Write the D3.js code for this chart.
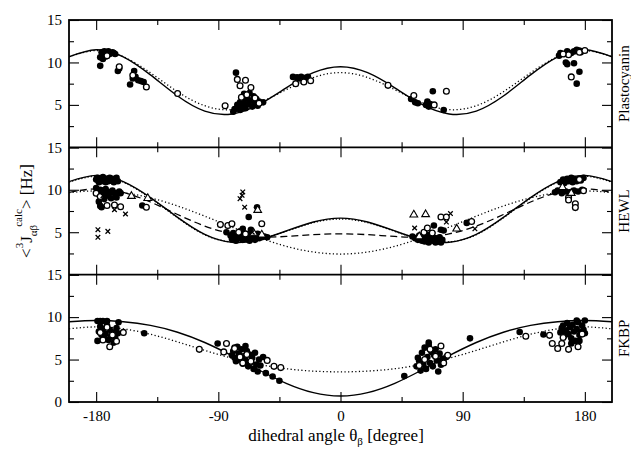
<!DOCTYPE html>
<html><head><meta charset="utf-8">
<script src="https://cdn.jsdelivr.net/npm/d3@7"></script>
<style>body{margin:0;background:#fff}svg{display:block}</style>
</head><body><svg id="c" width="631" height="449"></svg>
<script>
// ---------- data ----------
const thetaGrid = [-200,-180,-160,-140,-120,-100,-80,-60,-40,-20,0,20,40,60,80,100,120,140,160,180,200];
const xTickValues = [-180,-90,0,90,180];
const xTickLabels = ["-180","-90","0","90","180"];
const xMinorTicks = [-135,-45,45,135];
const yTickValues = [0,5,10,15];
const yMinorTicks = [2.5,7.5,12.5];
const panelNames = ["Plastocyanin","HEWL","FKBP"];

// curves (values at thetaGrid)
const p1Solid  = [10.67,11.5,10.67,8.54,6.05,4.27,3.93,5.05,7.01,8.79,9.5,8.79,7.01,5.05,3.93,4.27,6.05,8.54,10.67,11.5,10.67];
const p1Dotted = [10.67,11.4,10.67,8.78,6.55,4.9,4.44,5.25,6.79,8.22,8.8,8.22,6.79,5.25,4.44,4.9,6.55,8.78,10.67,11.4,10.67];
const p2Solid  = [10.96,11.7,10.96,9.08,6.75,4.75,3.82,4.11,5.15,6.21,6.66,6.21,5.15,4.11,3.82,4.75,6.75,9.08,10.96,11.7,10.96];
const p2DotA   = [10.9,11.6,10.9,9.0,6.7,4.7,3.86,4.16,5.1,6.12,6.56,6.12,5.1,4.16,3.86,4.7,6.7,9.0,10.9,11.6,10.9];
const p2Dashed = [9.69,10.11,9.69,8.56,7.09,5.73,4.81,4.44,4.5,4.71,4.81,4.71,4.5,4.44,4.81,5.73,7.09,8.56,9.69,10.11,9.69];
const p2DotB   = [9.66,9.87,9.66,9.04,8.09,6.89,5.6,4.37,3.34,2.67,2.43,2.67,3.34,4.37,5.6,6.89,8.09,9.04,9.66,9.87,9.66];
const p3Solid  = [9.46,9.6,9.46,9.02,8.22,7.01,5.46,3.77,2.2,1.1,0.7,1.1,2.2,3.77,5.46,7.01,8.22,9.02,9.46,9.6,9.46];
const p3Dotted = [8.62,8.85,8.62,7.98,7.08,6.08,5.16,4.43,3.92,3.64,3.55,3.64,3.92,4.43,5.16,6.08,7.08,7.98,8.62,8.85,8.62];

// scatter points [theta, J]
const p1Filled = [[-177,9.6],[-177,10.6],[-176,11.2],[-175,10.9],[-174,11.3],[-173,10.7],[-172,11.0],[-171,11.3],[-175,10.4],[-170,11.0],[-168,11.2],[-167,11.1],[-166,11.0],[-164,9.0],[-163,9.3],[-155,7.4],[-152,9.0],[-153,8.1],[-151,8.3],[-149,7.9],[-147,7.8],[-145,7.7],
 [-77,8.8],[-79,4.2],[-78,4.5],[-76,5.0],[-75,4.7],[-74,5.3],[-73,4.9],[-72,5.6],[-71,5.2],[-70,4.6],[-69,5.8],[-68,5.1],[-67,6.4],[-66,5.5],[-65,4.8],[-64,6.0],[-63,5.3],[-62,5.7],[-61,4.9],[-60,5.4],[-57,5.3],[-71,6.3],[-74,4.4],
 [-35,8.3],[-32,8.25],[-29,8.3],[-26,8.2],[-24,8.3],[-30,8.1],
 [52,5.7],[55,5.3],[57,5.2],[63,5.0],[64,5.4],[65,4.8],[66,5.1],[68,6.6],[76,4.4],
 [161,10.8],[162,11.1],[165,11.0],[167,11.3],[170,11.1],[172,11.3],[174,11.5],[176,11.4],[177,11.2],[166,10.0],[167,9.8],[172,9.9],[176,8.9],[174,7.5]];
const p1Open = [[-172,10.8],[-163,9.5],[-153,8.5],[-143,7.1],[-120,6.35],[-85,4.9],[-76,8.0],[-70,7.9],[-74,7.25],[-66,7.05],[-73,5.9],[-69,6.2],[-63,5.8],[-60,5.2],
 [-33,7.5],[-27,7.7],[-22,7.85],[35,7.3],[54,6.1],[69,5.0],[78,6.6],[170,8.3],[168,10.9],[176,11.2],[180,11.4],[164,11.0]];
const p2Filled = [[-180,11.2],[-179,11.4],[-178,10.9],[-177,11.3],[-176,11.0],[-175,11.5],[-174,11.2],[-173,10.9],[-172,11.3],[-171,11.0],[-170,11.4],[-169,11.1],[-168,11.3],[-167,10.9],[-166,11.2],[-165,11.4],[-164,11.0],
 [-180,10.2],[-179,9.8],[-178,9.5],[-177,10.0],[-176,9.7],[-175,9.9],[-174,9.6],[-173,10.1],[-172,9.8],[-171,9.3],[-170,9.7],[-169,9.0],[-168,9.9],[-166,9.5],[-165,9.1],[-163,9.8],[-162,9.6],[-178,8.6],[-177,8.1],[-176,7.95],[-146,8.15],[-174,8.9],
 [-84,5.0],[-81,4.6],[-80,4.2],[-79,4.9],[-78,4.4],[-77,4.0],[-76,4.7],[-75,4.3],[-74,5.1],[-73,4.5],[-72,4.1],[-71,4.8],[-70,4.4],[-69,4.2],[-68,4.6],[-67,4.0],[-66,4.9],[-65,4.3],[-64,4.6],[-63,4.1],[-62,4.5],[-61,4.8],[-60,4.3],[-59,4.6],[-58,4.4],[-56,4.5],[-54,4.4],[-67.6,6.8],[-61.5,7.95],[-72,5.4],[-66,5.3],
 [53,4.5],[55,4.3],[57,4.1],[58,4.6],[60,4.0],[61,4.4],[62,3.9],[63,4.2],[64,4.7],[65,3.8],[66,4.1],[67,4.5],[68,4.0],[69,4.3],[70,3.8],[71,4.2],[72,3.9],[73,4.4],[74,3.8],[75,4.1],[68.8,5.8],[76,5.2],[74,5.3],[93,6.1],
 [158,9.7],[160,9.9],[162,10.9],[163,9.6],[164,11.2],[165,10.8],[166,9.8],[167,11.3],[168,11.0],[169,9.7],[170,11.4],[171,10.9],[172,9.9],[173,11.2],[174,11.0],[175,9.8],[176,11.3],[177,11.1],[178,10.0],[179,11.4],[172,11.3]];
const p2Open = [[-180,9.6],[-172,8.15],[-166.5,8.2],[-162,8.0],[-143,7.95],[-177,9.2],[-88.5,5.9],[-83,5.8],[-80,6.0],[-58,6.0],[-75,5.0],[-70,4.8],[61.5,5.0],[67.6,4.9],[74,6.8],[78,6.8],[96.6,6.26],[64,5.5],[168,9.1],[168,8.8],[173,8.35],[173,7.9],[176,11.2],[179,9.9]];
const p2Cross = [[-178.7,5.3],[-178.7,4.4],[-171.4,5.1],[-166.5,7.65],[-158.4,7.15],[-74,8.95],[-72.5,9.35],[-72,9.75],[-70.6,7.95],[54.6,5.5],[78,6.2],[81,7.2],[99,5.4],[-65,5.0],[-175,9.3]];
const p2Triangle = [[-154,9.25],[-142,9.0],[-61,7.6],[54,7.05],[62.7,7.1],[85.6,5.4],[163.5,10.3],[-64,4.9],[-58,4.7],[170,9.6],[58,4.5]];
const p3Filled = [[-179,9.55],[-177,9.55],[-175,9.55],[-172,9.55],[-163.5,9.4],[-179,7.2],[-178,8.3],[-177,8.9],[-176,7.9],[-175,8.6],[-174,7.5],[-173,8.0],[-172,9.0],[-171,7.3],[-170,8.5],[-169,7.7],[-168,8.2],[-167,7.0],[-166,7.6],[-165,8.7],[-164,8.1],[-144.6,8.1],
 [-90.5,6.9],[-80,5.5],[-79,6.0],[-78,5.2],[-77,4.8],[-76,6.5],[-75,5.7],[-74,5.0],[-73,6.2],[-72,4.5],[-71,5.4],[-70,4.9],[-69,6.0],[-68,4.2],[-67,5.6],[-66,4.7],[-65,5.2],[-64,3.9],[-63,5.8],[-62,4.4],[-61,3.6],[-60,5.0],[-59,4.3],[-57,5.3],[-55,3.4],[-50,3.0],[-45,2.5],[-78,6.4],[-70,6.6],
 [47,3.05],[56,4.2],[57,5.2],[58,4.8],[59,3.7],[60,5.8],[61,4.4],[62,6.4],[63,3.9],[64,5.3],[65,6.7],[66,4.6],[67,5.9],[68,4.2],[69,5.5],[70,6.2],[71,4.9],[72,3.6],[73,5.7],[74,4.4],[75,5.1],[76,4.7],[78,5.3],[95.4,7.5],[132,8.25],[149.5,7.95],[65,7.0],
 [162,8.2],[163,8.7],[164,9.0],[165,7.8],[166,8.4],[167,9.3],[168,8.0],[169,8.8],[170,7.5],[171,9.1],[172,8.3],[173,7.2],[174,8.6],[175,9.4],[176,7.9],[177,8.2],[178,9.0],[179,8.5],[180,9.6],[180,8.1],[170,6.9],[176,7.2],[174,9.6]];
const p3Open = [[-177,8.2],[-175,7.3],[-170,6.5],[-165,7.15],[-172,8.8],[-160,8.2],[-168,7.9],[-104,6.2],[-86,5.9],[-84,6.9],[-78,6.3],[-74,5.3],[-69,5.6],[-66,4.8],[-54,4.9],[-49,4.2],[-44,4.05],[-72,4.6],
 [58,4.3],[62,5.0],[66,6.2],[70,5.4],[74,6.6],[79,5.5],[76,4.6],[136.5,7.75],[154,7.85],[156,6.9],[160,6.3],[163,6.9],[168,6.2],[175,6.5],[164,7.6],[178,8.0]];

// ---------- layout ----------
const L = 69, R = 612, T = 20, B = 402, H = (B - T) / 3;
const serif = "'Liberation Serif','Times New Roman',serif";
const svg = d3.select("#c");
const x = d3.scaleLinear().domain([-200, 200]).range([L, R]);

const panels = [
  {curves:[{v:p1Dotted,dash:"1.2,2.4"},{v:p1Solid,dash:null}], filled:p1Filled, open:p1Open, cross:[], tri:[], labels:[5,10,15]},
  {curves:[{v:p2DotB,dash:"1.2,2.4"},{v:p2Dashed,dash:"7,4"},{v:p2DotA,dash:"1.2,2"},{v:p2Solid,dash:null}], filled:p2Filled, open:p2Open, cross:p2Cross, tri:p2Triangle, labels:[5,10,15]},
  {curves:[{v:p3Dotted,dash:"1.2,2.4"},{v:p3Solid,dash:null}], filled:p3Filled, open:p3Open, cross:[], tri:[], labels:[0,5,10,15]}
];

panels.forEach((p, i) => {
  const top = T + i * H, bot = top + H;
  const y = d3.scaleLinear().domain([0, 15]).range([bot, top]);
  const g = svg.append("g");
  const cid = "clip" + i;
  svg.append("clipPath").attr("id", cid).append("rect").attr("x", L).attr("y", top).attr("width", R - L).attr("height", H);
  const line = d3.line().x(d => x(d[0])).y(d => y(d[1])).curve(d3.curveNatural);
  const cg = g.append("g").attr("clip-path", `url(#${cid})`);
  p.curves.forEach(c => {
    cg.append("path").datum(c.v.map((v, j) => [thetaGrid[j], v]))
      .attr("d", line).attr("fill", "none").attr("stroke", "#000")
      .attr("stroke-width", c.dash ? 1.3 : 1.4)
      .attr("stroke-dasharray", c.dash);
  });
  cg.selectAll(".f").data(p.filled).join("circle")
    .attr("cx", d => x(d[0])).attr("cy", d => y(d[1])).attr("r", 3.3).attr("fill", "#000");
  cg.selectAll(".o").data(p.open).join("circle")
    .attr("cx", d => x(d[0])).attr("cy", d => y(d[1])).attr("r", 2.9)
    .attr("fill", "#fff").attr("stroke", "#000").attr("stroke-width", 1.3);
  const tri = d3.symbol().type(d3.symbolTriangle).size(26);
  cg.selectAll(".t").data(p.tri).join("path")
    .attr("d", tri).attr("transform", d => `translate(${x(d[0])},${y(d[1])})`)
    .attr("fill", "#fff").attr("stroke", "#000").attr("stroke-width", 1.1);
  cg.selectAll(".x").data(p.cross).join("path")
    .attr("d", "M-2.3,-2.3L2.3,2.3M-2.3,2.3L2.3,-2.3")
    .attr("transform", d => `translate(${x(d[0])},${y(d[1])})`)
    .attr("stroke", "#000").attr("stroke-width", 1.3).attr("fill", "none");

  // axes
  const styleAxis = a => { a.select(".domain").remove(); a.selectAll("line").attr("stroke-width", 1.1); a.selectAll("text").attr("font-family", serif).attr("font-size", 15).attr("fill", "#000"); };
  g.append("g").attr("transform", `translate(${L},0)`)
    .call(d3.axisLeft(y).tickValues(yTickValues).tickSize(-10).tickPadding(7)
      .tickFormat(d => p.labels.includes(d) ? String(d) : "")).call(styleAxis);
  g.append("g").attr("transform", `translate(${L},0)`)
    .call(d3.axisLeft(y).tickValues(yMinorTicks).tickSize(-5).tickFormat("")).call(styleAxis);
  g.append("g").attr("transform", `translate(${R},0)`)
    .call(d3.axisRight(y).tickValues(yTickValues).tickSize(-10).tickFormat("")).call(styleAxis);
  g.append("g").attr("transform", `translate(${R},0)`)
    .call(d3.axisRight(y).tickValues(yMinorTicks).tickSize(-5).tickFormat("")).call(styleAxis);
  g.append("g").attr("transform", `translate(0,${top})`)
    .call(d3.axisTop(x).tickValues(xTickValues).tickSize(-10).tickFormat("")).call(styleAxis);
  g.append("g").attr("transform", `translate(0,${top})`)
    .call(d3.axisTop(x).tickValues(xMinorTicks).tickSize(-5).tickFormat("")).call(styleAxis);
  g.append("g").attr("transform", `translate(0,${bot})`)
    .call(d3.axisBottom(x).tickValues(xTickValues).tickSize(-10).tickPadding(8)
      .tickFormat((d, k) => i === 2 ? xTickLabels[k] : "")).call(styleAxis);
  g.append("g").attr("transform", `translate(0,${bot})`)
    .call(d3.axisBottom(x).tickValues(xMinorTicks).tickSize(-5).tickFormat("")).call(styleAxis);

  // panel name
  svg.append("text").attr("transform", `translate(629,${(top + bot) / 2}) rotate(-90)`)
    .attr("text-anchor", "middle").attr("font-family", serif).attr("font-size", 15).text(panelNames[i]);
});

// frame
svg.append("rect").attr("x", L).attr("y", T).attr("width", R - L).attr("height", B - T)
  .attr("fill", "none").attr("stroke", "#000").attr("stroke-width", 1.8);
[1, 2].forEach(k => svg.append("line").attr("x1", L).attr("x2", R)
  .attr("y1", T + k * H).attr("y2", T + k * H).attr("stroke", "#000").attr("stroke-width", 1.8));

// x title
const xt = svg.append("text").attr("x", 336).attr("y", 441).attr("text-anchor", "middle")
  .attr("font-family", serif).attr("font-size", 17);
xt.append("tspan").text("dihedral angle θ");
xt.append("tspan").attr("font-size", 11).attr("dy", 4).text("β");
xt.append("tspan").attr("dy", -4).text(" [degree]");

// y title
const yt = svg.append("text").attr("transform", "translate(32,211) rotate(-90)").attr("text-anchor", "middle")
  .attr("font-family", serif).attr("font-size", 17);
yt.append("tspan").text("<");
yt.append("tspan").attr("font-size", 11).attr("dy", -9).text("3");
yt.append("tspan").attr("dy", 9).text("J");
yt.append("tspan").attr("font-size", 11).attr("dy", 5).text("αβ");
yt.append("tspan").attr("font-size", 11).attr("dy", -15).attr("dx", -2).text("calc");
yt.append("tspan").attr("dy", 10).text(">");
yt.append("tspan").text(" [Hz]");
</script></body></html>
